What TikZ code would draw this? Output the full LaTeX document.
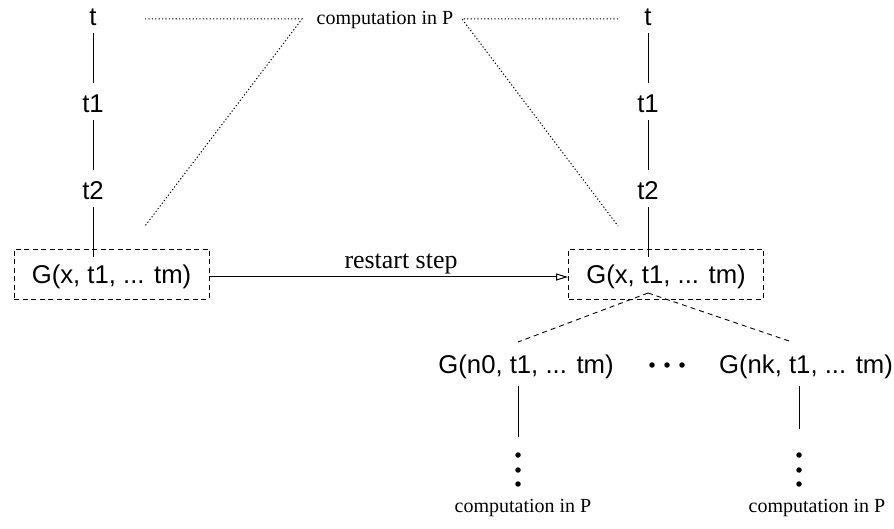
\documentclass[tikz,border=0pt]{standalone}
\usepackage{fontspec}
\setmainfont{Liberation Serif}
\setsansfont{Liberation Sans}
\usetikzlibrary{arrows.meta}
\begin{document}
\begin{tikzpicture}[x=1pt,y=-1pt,
  lab/.style={font=\fontsize{25.7}{30}\selectfont\sffamily, inner sep=0pt},
  tlab/.style={lab, text height=30pt, text depth=7pt, anchor=base},
  gbox/.style={lab, draw, dash pattern=on 5pt off 3.5pt, minimum width=195pt, minimum height=50pt, line width=0.9pt, text depth=0pt},
  rom/.style={font=\fontsize{20}{24}\selectfont, inner sep=0pt},
  dotl/.style={line width=1pt, dash pattern=on 1.2pt off 2.2pt},
  dashl/.style={line width=0.9pt, dash pattern=on 5pt off 4pt},
  sline/.style={line width=1pt},
  bigdot/.style={circle, fill, inner sep=0pt, minimum size=5.5pt}
]
\useasboundingbox (0,0) rectangle (894,529);
% left column
\node[tlab] (lt)  at (93,26)  {t};
\node[tlab] (lt1) at (93,113) {t1};
\node[tlab] (lt2) at (93,200) {t2};
\node[gbox] (lbox) at (111.5,274) {G(x, t1, ... tm)};
% right column
\node[tlab] (rt)  at (648,26)  {t};
\node[tlab] (rt1) at (648,113) {t1};
\node[tlab] (rt2) at (648,200) {t2};
\node[gbox] (rbox) at (666,274) {G(x, t1, ... tm)};
\draw[sline] (lt) -- (lt1);
\draw[sline] (lt1) -- (lt2);
\draw[sline, shorten >=-8pt] (lt2) -- (lbox.north -| lt2);
\draw[sline] (rt) -- (rt1);
\draw[sline] (rt1) -- (rt2);
\draw[sline, shorten >=-8pt] (rt2) -- (rbox.north -| rt2);
% restart arrow
\draw[sline, -{Triangle[open, length=12pt, width=7pt]}] ([yshift=-3pt]lbox.east) -- ([yshift=-3pt]rbox.west);
\node[font=\fontsize{25.9}{30}\selectfont, inner sep=0pt] (rs) at (401,264) {restart step};
% top label and dotted triangles
\node[rom] (comp) at (385,20) {computation in P};
\coordinate (a1) at (145,19);
\coordinate (a2) at (302,19);
\coordinate (a3) at (145,226);
\coordinate (b1) at (618,19);
\coordinate (b2) at (462,19);
\coordinate (b3) at (618,226);
\draw[dotl] (a1) -- (a2) -- (a3);
\draw[dotl] (b1) -- (b2) -- (b3);
% children
\coordinate (apex) at (648,293);
\node[lab] (n0) at (526,367) {G(n0, t1, ... tm)};
\node[lab] (nk) at (806,367) {G(nk, t1, ... tm)};
\coordinate (c0) at (518,342);
\coordinate (ck) at (792,342);
\draw[dashl] (apex) -- (c0);
\draw[dashl] (apex) -- (ck);
\node[bigdot] (h1) at (652,365) {};
\node[bigdot] (h2) at (667,365) {};
\node[bigdot] (h3) at (682,365) {};
\coordinate (l0a) at (518,386);
\coordinate (l0b) at (518,437);
\coordinate (lka) at (799,386);
\coordinate (lkb) at (799,429);
\draw[sline] (l0a) -- (l0b);
\draw[sline] (lka) -- (lkb);
\node[bigdot] (v01) at (518,455) {};
\node[bigdot] (v02) at (518,470) {};
\node[bigdot] (v03) at (518,484) {};
\node[bigdot] (vk1) at (799,455) {};
\node[bigdot] (vk2) at (799,470) {};
\node[bigdot] (vk3) at (799,484) {};
\node[rom] (cb0) at (523,508) {computation in P};
\node[rom] (cbk) at (817,508) {computation in P};
\end{tikzpicture}
\end{document}
